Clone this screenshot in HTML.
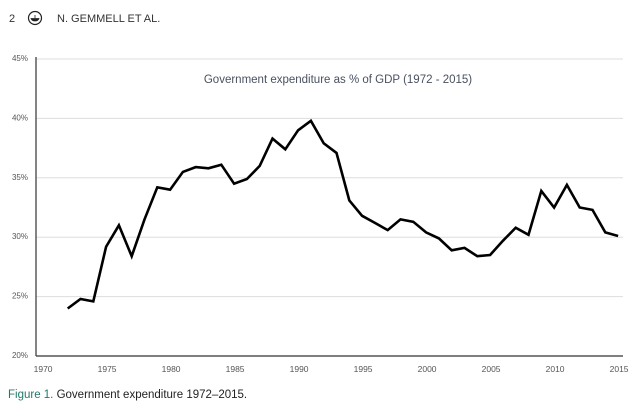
<!DOCTYPE html>
<html><head><meta charset="utf-8"><style>
body{margin:0;background:#fff;width:640px;height:412px;overflow:hidden;font-family:"Liberation Sans",sans-serif}
</style></head><body>
<svg width="640" height="412" xmlns="http://www.w3.org/2000/svg">
<g>
<text x="9" y="22" font-size="11" fill="#333">2</text>
<circle cx="35" cy="18" r="6.5" fill="none" stroke="#222" stroke-width="1.2"/>
<path d="M31 18.5 h8 q-1 2.5 -4 2.5 q-3 0 -4 -2.5z M35 15 v3" fill="#222" stroke="#222" stroke-width="0.8"/>
<text x="57" y="22" font-size="11" fill="#333">N. GEMMELL ET AL.</text>
</g>
<g id="grid"></g>
<g id="yticks"></g>
<g id="xticks"></g>
<line x1="36" y1="57" x2="36" y2="356" stroke="#333" stroke-width="1.2"/>
<line x1="36" y1="356" x2="623" y2="356" stroke="#333" stroke-width="1.2"/>
<text x="338" y="83" font-size="11.5" fill="#4a5060" text-anchor="middle">Government expenditure as % of GDP (1972 - 2015)</text>
<path id="line" fill="none" stroke="#000" stroke-width="2.6" stroke-linejoin="miter"/>
<text x="8" y="398" font-size="11.5" fill="#222"><tspan fill="#1f7a68">Figure 1.</tspan> Government expenditure 1972–2015.</text>
</svg>
<script>
const years=[1972,1973,1974,1975,1976,1977,1978,1979,1980,1981,1982,1983,1984,1985,1986,1987,1988,1989,1990,1991,1992,1993,1994,1995,1996,1997,1998,1999,2000,2001,2002,2003,2004,2005,2006,2007,2008,2009,2010,2011,2012,2013,2014,2015];
const values=[24.0,24.8,24.6,29.2,31.0,28.4,31.5,34.2,34.0,35.5,35.9,35.8,36.1,34.5,34.9,36.0,38.3,37.4,39.0,39.8,37.9,37.1,33.1,31.8,31.2,30.6,31.5,31.3,30.4,29.9,28.9,29.1,28.4,28.5,29.7,30.8,30.2,33.9,32.5,34.4,32.5,32.3,30.4,30.1];
const yTicks=[20,25,30,35,40,45];
const xTicks=[1970,1975,1980,1985,1990,1995,2000,2005,2010,2015];
const NS="http://www.w3.org/2000/svg";
const xs=y=>42.1+(y-1970)*12.8;
const ys=v=>356-(v-20)*11.88;
const grid=document.getElementById('grid'),yt=document.getElementById('yticks'),xt=document.getElementById('xticks');
yTicks.forEach(t=>{
 if(t>20){const l=document.createElementNS(NS,'line');
 l.setAttribute('x1',36);l.setAttribute('x2',623);l.setAttribute('y1',ys(t));l.setAttribute('y2',ys(t));
 l.setAttribute('stroke','#ddd');l.setAttribute('stroke-width','1');
 
 
 grid.appendChild(l);}
 const tx=document.createElementNS(NS,'text');
 tx.setAttribute('x',28);tx.setAttribute('y',ys(t)+2);tx.setAttribute('text-anchor','end');
 tx.setAttribute('font-size','8');tx.setAttribute('fill','#555');tx.textContent=t+'%';
 
 
 yt.appendChild(tx);
});
xTicks.forEach(t=>{
 const tx=document.createElementNS(NS,'text');
 tx.setAttribute('x',xs(t)+1);tx.setAttribute('y',372);tx.setAttribute('text-anchor','middle');
 tx.setAttribute('font-size','8.5');tx.setAttribute('fill','#555');tx.textContent=t;
 
 
 xt.appendChild(tx);
});
document.getElementById('line').setAttribute('d',years.map((y,i)=>(i?'L':'M')+xs(y).toFixed(1)+' '+ys(values[i]).toFixed(1)).join(' '));
</script>
</body></html>
